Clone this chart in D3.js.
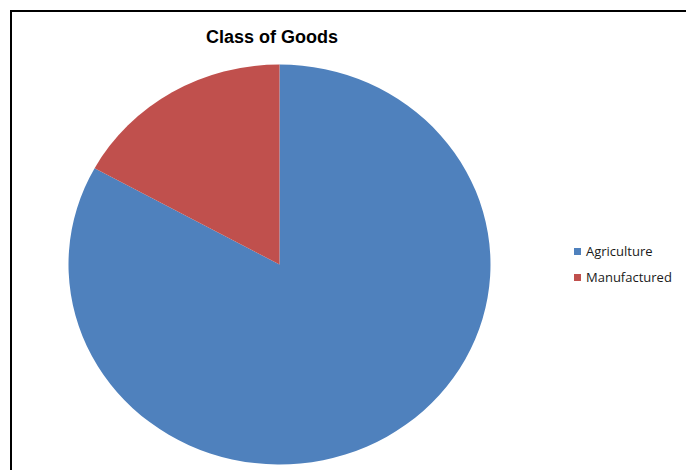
<!DOCTYPE html>
<html>
<head>
<meta charset="utf-8">
<script src="https://cdn.jsdelivr.net/npm/d3@7"></script>
<style>
  body { margin: 0; background: #fff; }
</style>
</head>
<body>
<div id="chart"></div>
<script>
// Data
const categories = ["Agriculture", "Manufactured"];
const values = [83, 17];
const colors = ["#4F81BD", "#C0504D"];
const title = "Class of Goods";

const width = 686;
const height = 470;

const svg = d3.select("#chart")
    .append("svg")
        .attr("width", width)
        .attr("height", height);

// chart frame (runs off the right and bottom edges)
svg.append("rect")
    .attr("x", 11)
    .attr("y", 11)
    .attr("width", width + 20)
    .attr("height", height + 20)
    .attr("fill", "none")
    .attr("stroke", "#000")
    .attr("stroke-width", 2);

svg.append("text")
    .attr("x", 272)
    .attr("y", 43)
    .attr("text-anchor", "middle")
    .style("font", "bold 18px 'Liberation Sans', sans-serif")
    .text(title);

// pie, slightly stretched horizontally like the original
const radius = 200;
const pie = d3.pie().sort(null).value(d => d);
const arc = d3.arc().innerRadius(0).outerRadius(radius);

const pieGroup = svg.append("g")
    .attr("transform", `translate(279.5, 264.5) scale(1.055, 1)`);

pieGroup.selectAll("path")
    .data(pie(values))
    .join("path")
        .attr("d", arc)
        .attr("fill", (d, i) => colors[i]);

// legend
const legend = svg.append("g")
    .attr("transform", "translate(574, 248)");

const items = legend.selectAll("g")
    .data(categories)
    .join("g")
        .attr("transform", (d, i) => `translate(0, ${i * 26})`);

items.append("rect")
    .attr("width", 7)
    .attr("height", 7)
    .attr("fill", (d, i) => colors[i]);

items.append("text")
    .attr("x", 12)
    .attr("y", 8)
    .style("font", "13px 'Open Sans', sans-serif")
    .attr("fill", "#1a1a1a")
    .text(d => d);
</script>
</body>
</html>
